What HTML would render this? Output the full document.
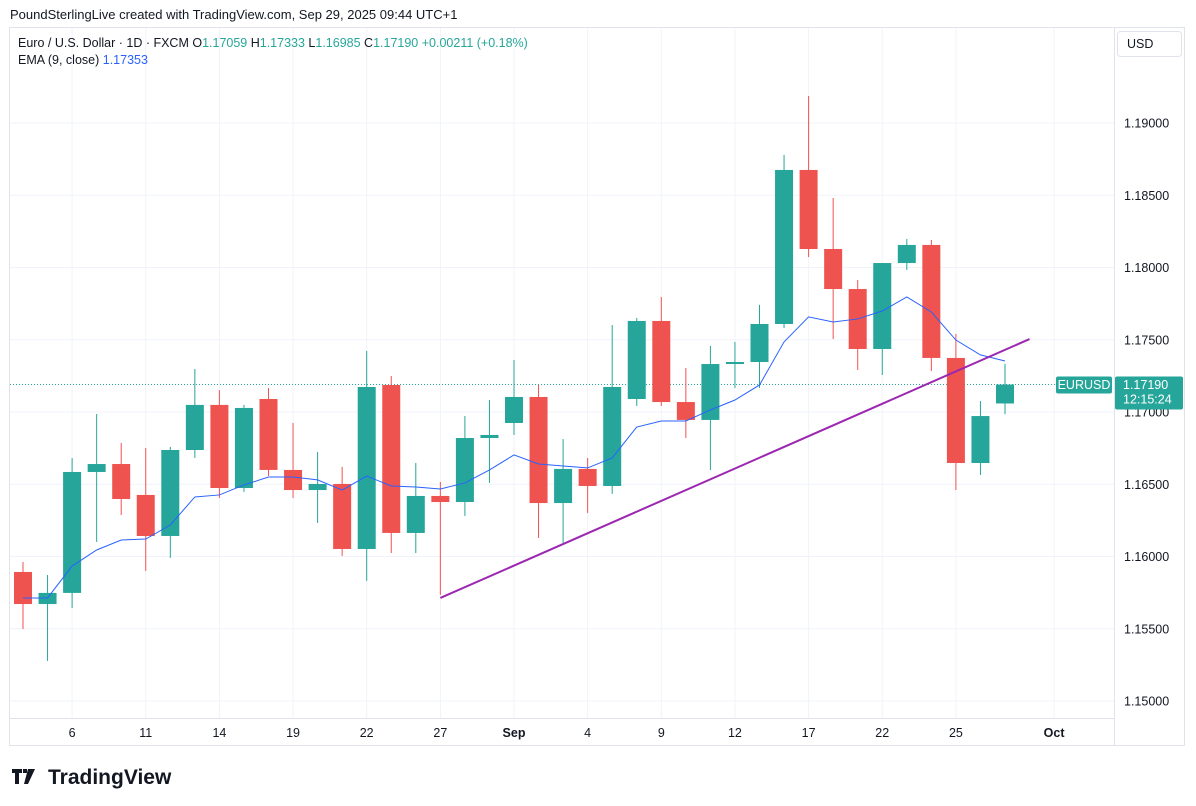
<!DOCTYPE html>
<html><head><meta charset="utf-8"><style>
html,body{margin:0;padding:0;background:#fff;width:1196px;height:806px;overflow:hidden;font-family:"Liberation Sans",sans-serif;}
svg text{font-family:"Liberation Sans",sans-serif;}
</style></head><body>
<svg id="c" width="1196" height="806" xmlns="http://www.w3.org/2000/svg">
<text x="10" y="19" font-size="13" fill="#131722">PoundSterlingLive created with TradingView.com, Sep 29, 2025 09:44 UTC+1</text>
<rect x="9.5" y="27.5" width="1175" height="718" fill="none" stroke="#e0e3eb"/>
<g id="grid"></g>
<line x1="1114.5" y1="28" x2="1114.5" y2="745" stroke="#e0e3eb"/>
<line x1="10" y1="718.5" x2="1114" y2="718.5" stroke="#e0e3eb"/>
<g id="marks"></g>
<text x="18" y="47" font-size="12.5" fill="#131722">Euro / U.S. Dollar · 1D · FXCM  O<tspan fill="#26a69a">1.17059</tspan>  H<tspan fill="#26a69a">1.17333</tspan>  L<tspan fill="#26a69a">1.16985</tspan>  C<tspan fill="#26a69a">1.17190</tspan>  <tspan fill="#26a69a">+0.00211 (+0.18%)</tspan></text>
<text x="18" y="64" font-size="12.5" fill="#131722">EMA (9, close)  <tspan fill="#2962ff">1.17353</tspan></text>
<rect x="1117.5" y="31.5" width="64" height="25" rx="3" fill="#fff" stroke="#e0e3eb"/>
<text x="1127" y="48" font-size="12.5" fill="#131722">USD</text>
<g>
<path d="M12 769h10v4h-3v11h-4v-11h-3z M23 769h4v4h-4z M28 769h7l-7 15h-4z" fill="#131722"/>
<text x="48" y="784" font-size="21" font-weight="bold" fill="#131722">TradingView</text>
</g>
</svg>
<script>
const dates=["4","5","6","7","8","11","12","13","14","15","18","19","20","21","22","25","26","27","28","29","Sep","2","3","4","5","8","9","10","11","12","15","16","17","18","19","22","23","24","25","26","29"];
const opens=[1.15893,1.15671,1.15748,1.16585,1.16640,1.16426,1.16142,1.16737,1.17049,1.16474,1.17090,1.16599,1.16460,1.16502,1.16052,1.17187,1.16163,1.16419,1.16377,1.16820,1.16924,1.17104,1.16370,1.16606,1.16488,1.17090,1.17630,1.17069,1.16945,1.17332,1.17346,1.17609,1.18675,1.18128,1.17851,1.17436,1.18031,1.18156,1.17374,1.16647,1.17059];
const highs=[1.15962,1.15872,1.16682,1.16986,1.16786,1.16751,1.16758,1.17298,1.17152,1.17049,1.17166,1.16924,1.16723,1.16620,1.17422,1.17249,1.16647,1.16516,1.16972,1.17083,1.17360,1.17187,1.16813,1.16682,1.17602,1.17651,1.17796,1.17305,1.17457,1.17485,1.17741,1.18779,1.19187,1.18481,1.17914,1.18031,1.18197,1.18190,1.17540,1.17076,1.17333];
const lows=[1.15498,1.15277,1.15644,1.16101,1.16287,1.15900,1.15990,1.16682,1.16405,1.16447,1.16557,1.16405,1.16232,1.16004,1.15831,1.16024,1.16024,1.15734,1.16280,1.16509,1.16841,1.16128,1.16094,1.16301,1.16433,1.17042,1.17042,1.16820,1.16599,1.17166,1.17166,1.17581,1.18073,1.17505,1.17291,1.17256,1.17983,1.17284,1.16460,1.16564,1.16985];
const closes=[1.15671,1.15748,1.16585,1.16640,1.16398,1.16142,1.16737,1.17049,1.16474,1.17028,1.16599,1.16460,1.16502,1.16052,1.17173,1.16163,1.16419,1.16377,1.16820,1.16841,1.17104,1.16370,1.16606,1.16488,1.17173,1.17630,1.17069,1.16945,1.17332,1.17346,1.17609,1.18675,1.18128,1.17851,1.17436,1.18031,1.18156,1.17374,1.16647,1.16972,1.17190];
const ema=[1.15713,1.15713,1.15934,1.16045,1.16114,1.16121,1.16218,1.16412,1.16426,1.16495,1.16550,1.16550,1.16530,1.16460,1.16557,1.16488,1.16481,1.16467,1.16509,1.16599,1.16703,1.16640,1.16626,1.16613,1.16682,1.16896,1.16938,1.16938,1.17014,1.17083,1.17187,1.17485,1.17658,1.17623,1.17644,1.17699,1.17796,1.17692,1.17498,1.17395,1.17353];
const priceTicks=[1.15,1.155,1.16,1.165,1.17,1.175,1.18,1.185,1.19];
const timeTickIdx=[2,5,8,11,14,17,20,23,26,29,32,35,38,42];
const timeTickLabels=["6","11","14","19","22","27","Sep","4","9","12","17","22","25","Oct"];
const trendIdx=[17,41];
const trendPrice=[1.15713,1.17505];
const lastPrice=1.17190;

const NS="http://www.w3.org/2000/svg";
const X=i=>23+i*24.55;
const Y=p=>123+(1.19-p)/0.04*578;
function mk(tag,attrs,parent,txt){const e=document.createElementNS(NS,tag);for(const k in attrs)e.setAttribute(k,attrs[k]);if(txt!==undefined)e.textContent=txt;parent.appendChild(e);return e;}
const grid=document.getElementById('grid'),marks=document.getElementById('marks'),svg=document.getElementById('c');
priceTicks.forEach(p=>{
 const l=mk('line',{x1:10,x2:1114,y1:Y(p),y2:Y(p),stroke:'#f0f3fa'},grid);
 
 
 const t=mk('text',{x:1124,y:Y(p)+4.5,'font-size':12.5,fill:'#131722'},svg,p.toFixed(5));
 
 
});
timeTickIdx.forEach((i,k)=>{
 const l=mk('line',{x1:X(i),x2:X(i),y1:28,y2:718,stroke:'#f0f3fa'},grid);
 
 
 const lab=timeTickLabels[k];const bold=(lab==='Sep'||lab==='Oct');
 const t=mk('text',{x:X(i),y:737,'font-size':12.5,fill:'#131722','text-anchor':'middle','font-weight':bold?'bold':'normal'},svg,lab);
 
 
});
// last price dotted line
const dl=mk('line',{x1:10,x2:1114,y1:Y(lastPrice),y2:Y(lastPrice),stroke:'#26a69a','stroke-dasharray':'1 2'},marks);


// candles
closes.forEach((c,i)=>{
 const o=opens[i],up=c>=o,col=up?'#26a69a':'#ef5350';
 const g=mk('g',{},marks);
 
 
 mk('line',{x1:X(i),x2:X(i),y1:Y(highs[i]),y2:Y(lows[i]),stroke:col,'stroke-width':1},g);
 const top=Y(Math.max(o,c)),h=Math.max(1,Y(Math.min(o,c))-top);
 mk('rect',{x:X(i)-9,y:top,width:18,height:h,fill:col},g);
});
// ema
const ep=mk('polyline',{points:ema.map((v,i)=>X(i)+','+Y(v)).join(' '),fill:'none',stroke:'#2962ff','stroke-width':1},marks);


// trendline
const tl=mk('line',{x1:X(trendIdx[0]),y1:Y(trendPrice[0]),x2:X(trendIdx[1]),y2:Y(trendPrice[1]),stroke:'#9c27b0','stroke-width':2},marks);


// labels
const yl=Y(lastPrice);
const sr=mk('rect',{x:1056,y:yl-8,width:56,height:17,rx:2,fill:'#26a69a'},svg);


const st=mk('text',{x:1084,y:yl+4.5,'font-size':12.5,fill:'#fff','text-anchor':'middle'},svg,'EURUSD');


const pr=mk('rect',{x:1115,y:yl-8,width:68,height:33,rx:2,fill:'#26a69a'},svg);


const pt=mk('text',{x:1123,y:yl+4.5,'font-size':12.5,fill:'#fff'},svg,lastPrice.toFixed(5));


const ct=mk('text',{x:1123,y:yl+19,'font-size':12.5,fill:'#fff'},svg,'12:15:24');


</script>
</body></html>
